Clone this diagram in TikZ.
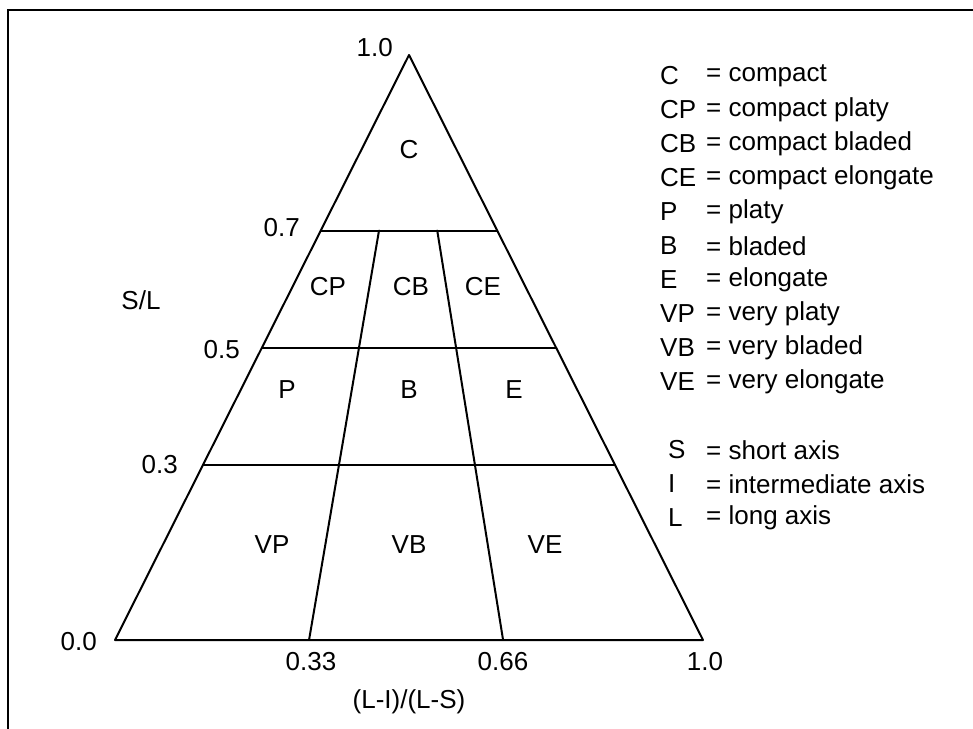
\documentclass[tikz,border=0pt]{standalone}
\usepackage{fontspec}
\setmainfont{Liberation Sans}
\usetikzlibrary{calc}
\begin{document}
\begin{tikzpicture}[x=1pt,y=-1pt,
  lbl/.style={font=\fontsize{26}{30}\selectfont, inner sep=0pt},
  edge/.style={line width=2pt, line cap=round, line join=round},
  frame/.style={line width=2.5pt}]
\useasboundingbox (0,0) rectangle (973,728);
\draw[frame] (8,740) -- (8,10) -- (990,10);
% triangle
\coordinate (A) at (409,55);
\coordinate (L) at (115,640);
\coordinate (R) at (703,640);
\draw[edge] (A) -- (L) -- (R) -- cycle;
% horizontal levels
\foreach \f/\n in {0.7/a,0.5/b,0.3/c}{
  \coordinate (\n l) at ($(L)!\f!(A)$);
  \coordinate (\n r) at ($(R)!\f!(A)$);
  \draw[edge] (\n l) -- (\n r);
}
% dividers
\coordinate (d1) at ($(L)!0.33!(R)$);
\coordinate (d2) at ($(L)!0.66!(R)$);
\coordinate (t1) at ($(d1)!0.7!(A)$);
\coordinate (t2) at ($(d2)!0.7!(A)$);
\draw[edge] (d1) -- (t1);
\draw[edge] (d2) -- (t2);
% axis labels
\node[lbl,anchor=east] (y10) at (393,48) {1.0};
\node[lbl,anchor=east] (y07) at (300,228) {0.7};
\node[lbl,anchor=east] (y05) at (240,350) {0.5};
\node[lbl,anchor=east] (y03) at (178,465) {0.3};
\node[lbl,anchor=east] (y00) at (97,642) {0.0};
\node[lbl] (sl) at (141,300) {S/L};
\node[lbl] (x033) at (311,662) {0.33};
\node[lbl] (x066) at (503,662) {0.66};
\node[lbl] (x10) at (705,662) {1.0};
\node[lbl] (xl) at (409,702) {(L-I)/(L-S)};
% region labels
\node[lbl] (rC) at (409,150) {C};
\node[lbl] (rCP) at (328,287) {CP};
\node[lbl] (rCB) at (411,287) {CB};
\node[lbl] (rCE) at (483,287) {CE};
\node[lbl] (rP) at (287,390) {P};
\node[lbl] (rB) at (409,390) {B};
\node[lbl] (rE) at (514,390) {E};
\node[lbl] (rVP) at (272,545) {VP};
\node[lbl] (rVB) at (409,545) {VB};
\node[lbl] (rVE) at (545,545) {VE};
% legend
\foreach \a/\t [count=\i from 0] in {C/compact, CP/compact platy, CB/compact bladed, CE/compact elongate, P/platy, B/bladed, E/elongate, VP/very platy, VB/very bladed, VE/very elongate}{
  \node[lbl,anchor=west] (ka\i) at (660,76+34*\i) {\a};
  \node[lbl,anchor=west] (kt\i) at (706,76+34*\i) {= \t};
}
\foreach \a/\t [count=\i from 0] in {S/short axis, I/intermediate axis, L/long axis}{
  \node[lbl,anchor=west] (sa\i) at (668,450+34*\i) {\a};
  \node[lbl,anchor=west] (st\i) at (706,450+34*\i) {= \t};
}
\end{tikzpicture}
\end{document}
